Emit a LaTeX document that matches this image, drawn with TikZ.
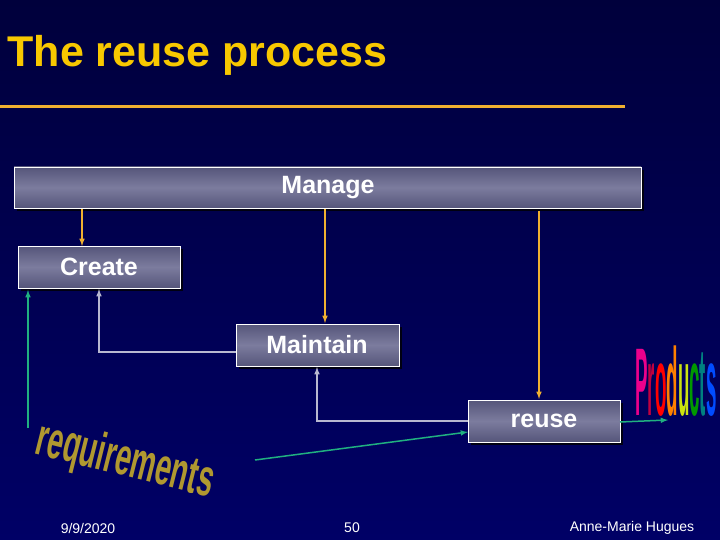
\documentclass[tikz,border=0pt]{standalone}
\usepackage{fontspec}
\setmainfont{Liberation Sans}
\usetikzlibrary{shadows}
\definecolor{bgtop}{HTML}{00003C}
\definecolor{bgbot}{HTML}{000066}
\definecolor{boxc}{HTML}{7C7C9E}
\definecolor{boxd}{HTML}{55557A}
\definecolor{orng}{HTML}{F0B030}
\definecolor{grn}{HTML}{20B080}
\definecolor{lgr}{HTML}{B8B8D0}
\definecolor{gold}{HTML}{B09830}
\definecolor{ttl}{HTML}{F8C800}
\begin{document}
\begin{tikzpicture}[x=1pt,y=-1pt,
  blk/.style={draw=white,line width=0.8pt,top color=boxd,bottom color=boxd,middle color=boxc,
    drop shadow={shadow xshift=3pt,shadow yshift=-3pt,fill=black,opacity=0.8}},
  lbl/.style={text=white,font=\bfseries\fontsize{25}{28}\selectfont},
  oarr/.style={draw=orng,line width=1.5pt,-{latex}},
  garr/.style={draw=grn,line width=1.5pt,-{latex}},
  larr/.style={draw=lgr,line width=1.5pt,-{latex}},
  foot/.style={text=white,font=\fontsize{14}{16}\selectfont}]
\shade[top color=bgtop,bottom color=bgbot] (0,0) rectangle (720,540);
\useasboundingbox (0,0) rectangle (720,540);
\node[anchor=west,text=ttl,font=\bfseries\fontsize{43}{46}\selectfont] (title) at (4,55) {The reuse process};
\draw[orng,line width=3pt] (0,107) -- (625,107);
\path[blk] (14,167) rectangle (641,208);
\node[lbl] (manage) at (328,188) {Manage};
\path[blk] (18,246) rectangle (180,288);
\node[lbl] (create) at (99,267) {Create};
\path[blk] (236,324) rectangle (399,366);
\node[lbl] (maintain) at (317,345) {Maintain};
\path[blk] (468,400) rectangle (620,442);
\node[lbl] (reuse) at (544,421) {reuse};
\coordinate (m1) at (82,209); \coordinate (c1) at (82,246);
\coordinate (m2) at (325,209); \coordinate (t2) at (325,323);
\coordinate (m3) at (539,211); \coordinate (t3) at (539,399);
\draw[oarr] (m1) -- (c1);
\draw[oarr] (m2) -- (t2);
\draw[oarr] (m3) -- (t3);
\coordinate (ml) at (236,352); \coordinate (cb) at (99,289);
\draw[larr] (ml) -- (99,352) -- (cb);
\coordinate (rl) at (468,421); \coordinate (mb) at (317,367);
\draw[larr] (rl) -- (317,421) -- (mb);
\coordinate (g1) at (28,428); \coordinate (g1e) at (28,290);
\draw[garr] (g1) -- (g1e);
\coordinate (g2) at (255,460); \coordinate (g2e) at (468,432);
\draw[garr] (g2) -- (g2e);
\coordinate (rr) at (620,422); \coordinate (pr) at (668,420);
\draw[garr] (rr) -- (pr);
\node[inner sep=0pt,font=\bfseries\fontsize{26}{26}\selectfont,xscale=0.72,yscale=3.7] (prod) at (676,381)
  {\textcolor{magenta}{P}\textcolor{purple}{r}\textcolor{red}{o}\textcolor{orange}{d}\textcolor{yellow!80!green}{u}\textcolor{green!60!black}{c}\textcolor{teal}{t}\textcolor{blue!70!cyan}{s}};
\node[rotate=-14,text=gold,font=\bfseries\fontsize{22}{22}\selectfont,xscale=1.3,yscale=2.4] (req) at (125,462) {requirements};
\node[foot] (date) at (88,528) {9/9/2020};
\node[foot] (page) at (352,528) {50};
\node[foot] (auth) at (632,528) {Anne-Marie Hugues};
\end{tikzpicture}
\end{document}
